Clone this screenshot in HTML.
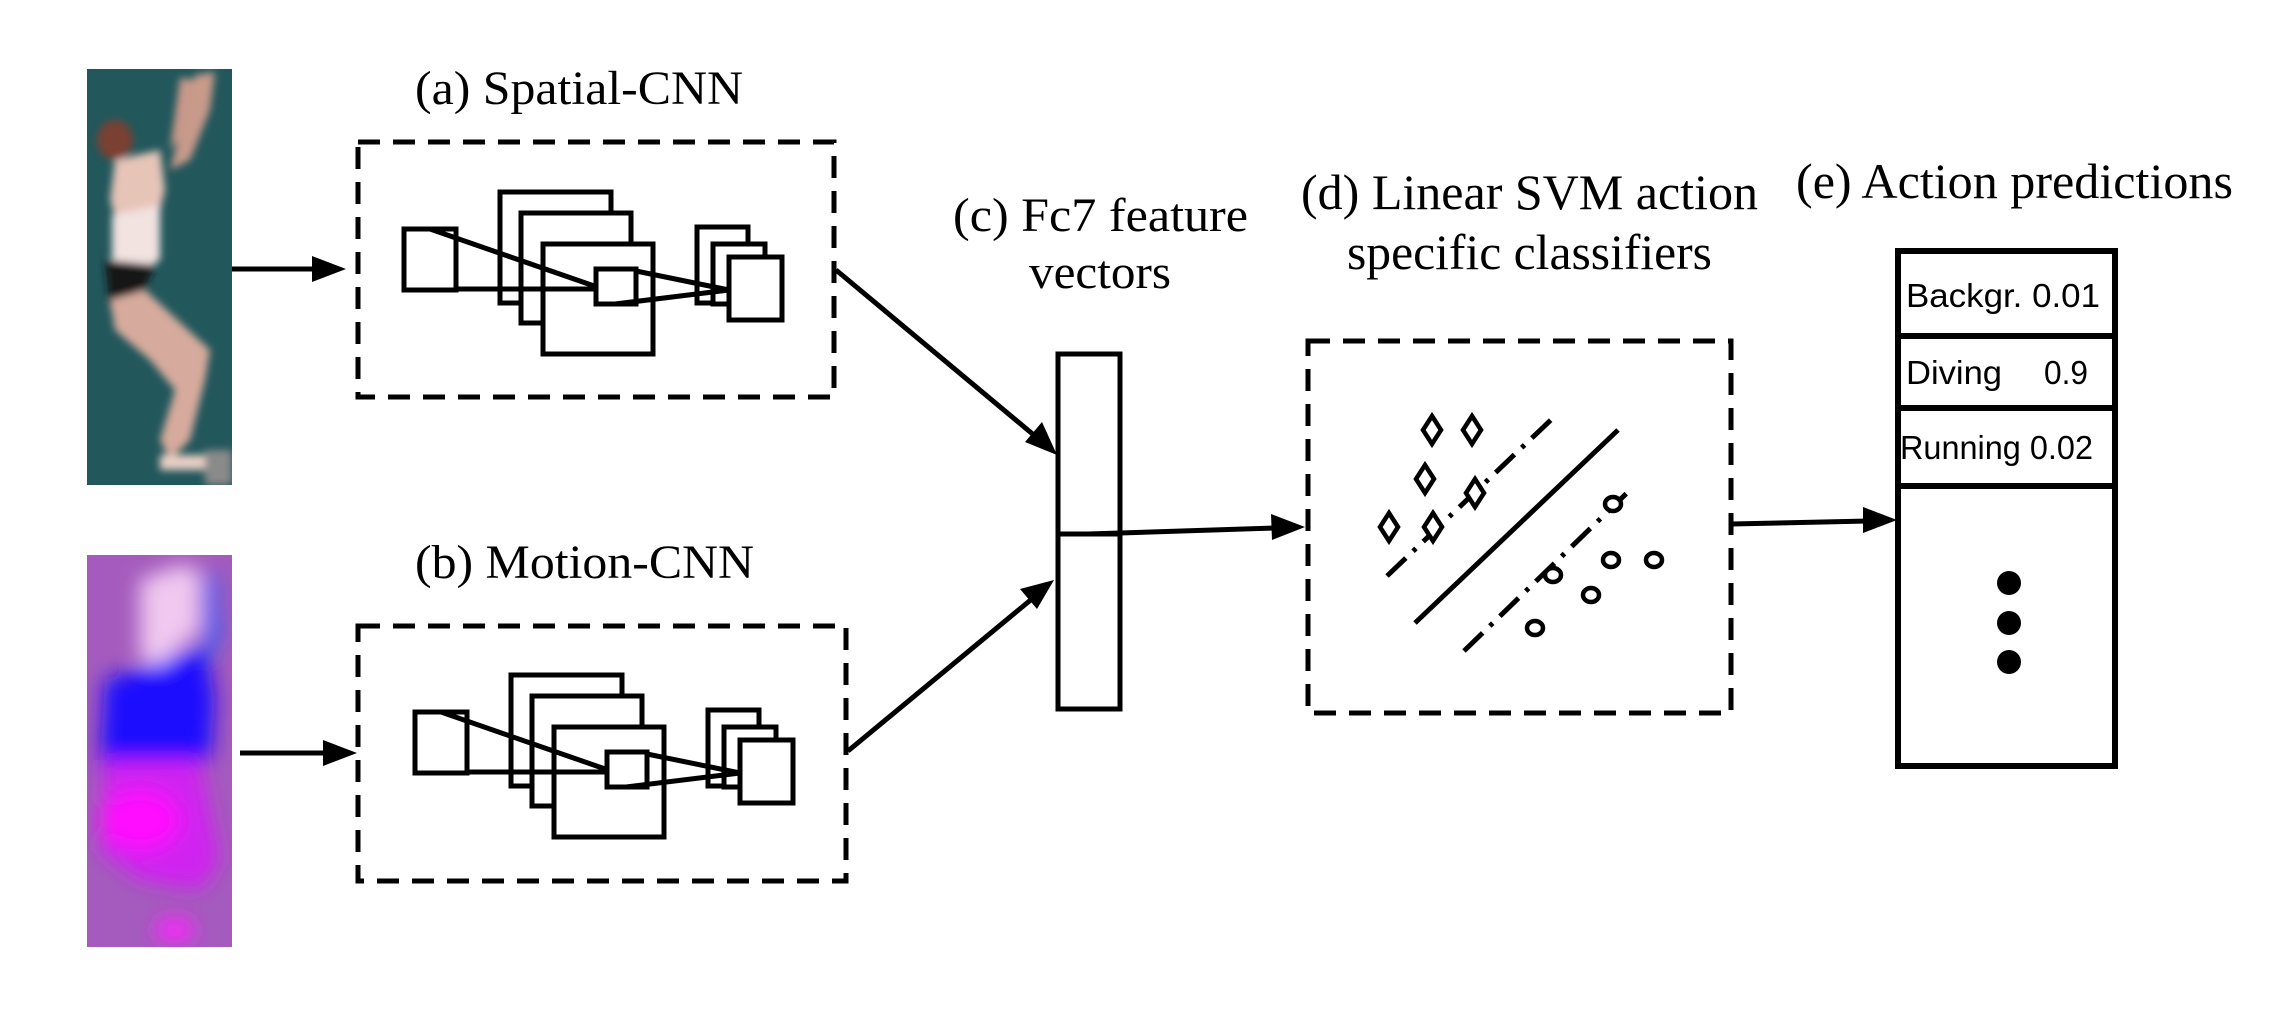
<!DOCTYPE html>
<html><head><meta charset="utf-8"><style>
html,body{margin:0;padding:0;background:#fff;}
svg{display:block;}
text{font-family:"Liberation Serif",serif;fill:#000;}
.s{font-family:"Liberation Sans",sans-serif;}
</style></head><body>
<svg width="2277" height="1033" viewBox="0 0 2277 1033" xmlns="http://www.w3.org/2000/svg">
<defs>
<filter id="b4" x="-50%" y="-50%" width="200%" height="200%"><feGaussianBlur stdDeviation="4"/></filter>
<filter id="b10" x="-50%" y="-50%" width="200%" height="200%"><feGaussianBlur stdDeviation="10"/></filter>
<clipPath id="c1"><rect x="87" y="69" width="145" height="416"/></clipPath>
<clipPath id="c2"><rect x="87" y="555" width="145" height="392"/></clipPath>
</defs>

<!-- top photo -->
<g clip-path="url(#c1)">
<rect x="87" y="69" width="145" height="416" fill="#22575c"/>
<g filter="url(#b4)">
<path d="M195 75 L215 72 L210 110 L190 160 L170 170 Z" fill="#c89a8a"/>
<path d="M180 78 L196 80 L185 130 L170 150 Z" fill="#c8998a"/>
<ellipse cx="115" cy="140" rx="18" ry="20" fill="#7a4030"/>
<path d="M115 160 L160 150 L165 190 L155 230 L120 235 L110 200 Z" fill="#e6c4b8"/>
<path d="M112 215 L160 205 L160 260 L135 275 L112 265 Z" fill="#f2e2e0"/>
<path d="M105 260 L155 265 L140 300 L110 310 Z" fill="#151515"/>
<path d="M110 300 L145 290 L210 350 L205 380 L190 440 L170 460 L160 440 L175 390 L150 360 L115 330 Z" fill="#d6aa9c"/>
<rect x="160" y="455" width="50" height="15" fill="#e9cfc4"/>
<rect x="205" y="450" width="27" height="35" fill="#8a8a8a"/>
</g>
</g>

<!-- flow image -->
<g clip-path="url(#c2)">
<rect x="87" y="555" width="145" height="392" fill="#a45bbd"/>
<g filter="url(#b10)">
<path d="M105 680 L150 665 L205 645 L215 700 L210 760 L150 780 L100 770 Z" fill="#1a10ff"/>
<path d="M140 580 L180 565 L200 570 L200 630 L160 665 L140 660 Z" fill="#f0c8f0"/>
<path d="M105 760 L200 760 L220 860 L200 890 L140 880 L100 850 Z" fill="#d020f0"/>
<ellipse cx="140" cy="820" rx="40" ry="30" fill="#ff10ff"/>
<ellipse cx="175" cy="930" rx="20" ry="12" fill="#ff20ff"/>
<path d="M205 575 L215 570 L220 640 L205 660 Z" fill="#2060ff"/>
</g>
</g>

<g stroke="#000" stroke-width="5" fill="none">
<rect x="358" y="142" width="476" height="255" stroke-dasharray="22 13"/>
<rect x="358" y="626" width="488" height="255" stroke-dasharray="22 13"/>
<rect x="1308" y="341" width="423" height="372" stroke-dasharray="22 13"/>

<g id="cnn" fill="#fff">
<rect x="500" y="192" width="111" height="111"/>
<rect x="521" y="213" width="110" height="110"/>
<rect x="543" y="244" width="110" height="110"/>
<rect x="404" y="229" width="52" height="61"/>
<rect x="697" y="227" width="51" height="76"/>
<rect x="713" y="244" width="52" height="60"/>
<rect x="729" y="257" width="53" height="63"/>
<line x1="430" y1="229" x2="600" y2="288"/>
<line x1="456" y1="289" x2="600" y2="289"/>
<rect x="596" y="269" width="40" height="35"/>
<line x1="636" y1="271" x2="729" y2="290"/>
<line x1="615" y1="304" x2="729" y2="290"/>
</g>
<use href="#cnn" transform="translate(11,483)"/>

<rect x="1058" y="354" width="62" height="355" fill="#fff"/>
<line x1="1058" y1="534" x2="1120" y2="534"/>

<line x1="232" y1="269" x2="320" y2="269"/>
<line x1="240" y1="753" x2="330" y2="753"/>
<line x1="836" y1="270" x2="1035" y2="436"/>
<line x1="848" y1="751" x2="1033" y2="598"/>
<line x1="1088" y1="534" x2="1275" y2="528"/>
<line x1="1731" y1="524" x2="1868" y2="521"/>

<line x1="1415" y1="623" x2="1618" y2="430"/>
<line x1="1387" y1="576" x2="1555" y2="416" stroke-dasharray="26 10 4 10"/>
<line x1="1464" y1="651" x2="1629" y2="491" stroke-dasharray="26 10 4 10"/>
<g fill="#fff" stroke-width="4.5">
<path d="M1432 416 l9 14 l-9 14 l-9 -14 z"/>
<path d="M1472 416 l9 14 l-9 14 l-9 -14 z"/>
<path d="M1425 465 l9 14 l-9 14 l-9 -14 z"/>
<path d="M1475 479 l9 14 l-9 14 l-9 -14 z"/>
<path d="M1389 513 l9 14 l-9 14 l-9 -14 z"/>
<path d="M1433 513 l9 14 l-9 14 l-9 -14 z"/>
<ellipse cx="1613" cy="504" rx="8" ry="7"/>
<ellipse cx="1553" cy="575" rx="8" ry="7"/>
<ellipse cx="1611" cy="560" rx="8" ry="7"/>
<ellipse cx="1654" cy="560" rx="8" ry="7"/>
<ellipse cx="1591" cy="595" rx="8" ry="7"/>
<ellipse cx="1535" cy="628" rx="8" ry="7"/>
</g>

<rect x="1898" y="251" width="217" height="515" fill="#fff" stroke-width="6"/>
<line x1="1898" y1="336" x2="2115" y2="336" stroke-width="6"/>
<line x1="1898" y1="408" x2="2115" y2="408" stroke-width="6"/>
<line x1="1898" y1="486" x2="2115" y2="486" stroke-width="6"/>
</g>

<g fill="#000">
<polygon points="346,269 312,256 312,282"/>
<polygon points="357,753 323,740 323,766"/>
<polygon points="1057,455 1042,422 1025,442"/>
<polygon points="1054,580 1020,589 1037,609"/>
<polygon points="1305,527 1271,514 1272,540"/>
<polygon points="1897,520 1863,507 1863,533"/>
<circle cx="2009" cy="583" r="12"/>
<circle cx="2009" cy="623" r="12"/>
<circle cx="2009" cy="662" r="12"/>
</g>

<text x="415" y="104" font-size="48" textLength="328" lengthAdjust="spacingAndGlyphs">(a) Spatial-CNN</text>
<text x="415" y="578" font-size="48" textLength="339" lengthAdjust="spacingAndGlyphs">(b) Motion-CNN</text>
<text x="953" y="231" font-size="48" textLength="295" lengthAdjust="spacingAndGlyphs">(c) Fc7 feature</text>
<text x="1029" y="288" font-size="48" textLength="142" lengthAdjust="spacingAndGlyphs">vectors</text>
<text x="1301" y="209" font-size="50" textLength="457" lengthAdjust="spacingAndGlyphs">(d) Linear SVM action</text>
<text x="1347" y="269" font-size="50" textLength="365" lengthAdjust="spacingAndGlyphs">specific classifiers</text>
<text x="1796" y="198" font-size="50" textLength="437" lengthAdjust="spacingAndGlyphs">(e) Action predictions</text>

<text class="s" x="1906" y="307" font-size="33" textLength="194" lengthAdjust="spacingAndGlyphs">Backgr.  0.01</text>
<text class="s" x="1906" y="384" font-size="33" textLength="96" lengthAdjust="spacingAndGlyphs">Diving</text>
<text class="s" x="2044" y="384" font-size="33" textLength="44" lengthAdjust="spacingAndGlyphs">0.9</text>
<text class="s" x="1900" y="459" font-size="33" textLength="193" lengthAdjust="spacingAndGlyphs">Running 0.02</text>
</svg>
</body></html>
